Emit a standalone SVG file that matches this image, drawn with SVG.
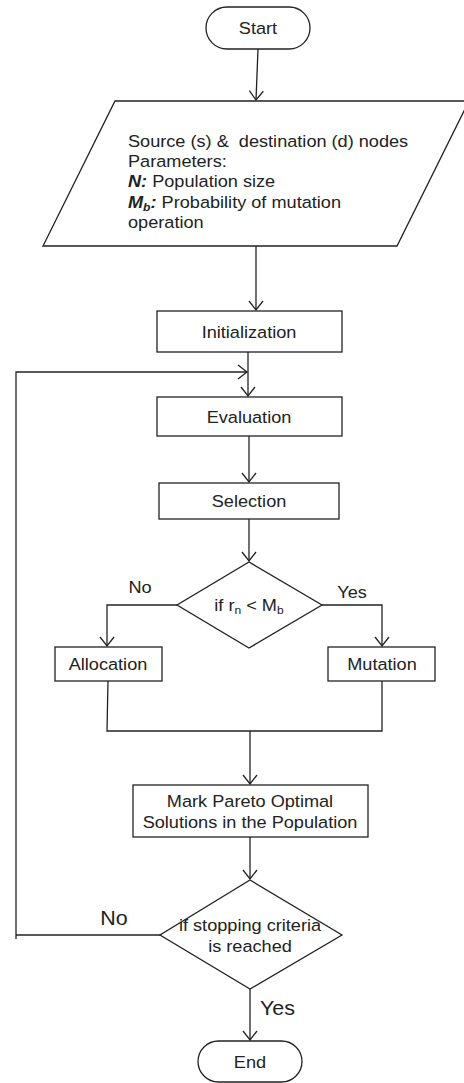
<svg xmlns="http://www.w3.org/2000/svg" width="464" height="1083" viewBox="0 0 464 1083">
<defs>
<style>
.s{fill:#fff;stroke:#222;stroke-width:1.3}
.c{fill:none;stroke:#222;stroke-width:1.3}
text{font-family:"Liberation Sans",Arial,Helvetica,sans-serif;font-size:16.5px;fill:#222}
.m{text-anchor:middle}
.big{font-size:19.5px}
.bi{font-weight:bold;font-style:italic}
</style>
<marker id="a" markerUnits="userSpaceOnUse" viewBox="-11 -9 13 18" refX="0" refY="0" markerWidth="13" markerHeight="18" orient="auto">
<path d="M-9,-7 L0,0 L-9,7" fill="none" stroke="#222" stroke-width="1.3"/>
</marker>
</defs>
<rect width="464" height="1083" fill="#fff"/>

<g id="connectors">
<path class="c" d="M258 49 L256 100" marker-end="url(#a)"/>
<path class="c" d="M256 246 V310" marker-end="url(#a)"/>
<path class="c" d="M248 352 V396" marker-end="url(#a)"/>
<path class="c" d="M160 935 H16 M16 939 V372 H247" marker-end="url(#a)"/>
<path class="c" d="M249 436 V482" marker-end="url(#a)"/>
<path class="c" d="M249 519 V561" marker-end="url(#a)"/>
<path class="c" d="M177 605 H107 V646" marker-end="url(#a)"/>
<path class="c" d="M322 605 H382 V646" marker-end="url(#a)"/>
<path class="c" d="M108 681 L107 731 H382 V681"/>
<path class="c" d="M250 731 V784" marker-end="url(#a)"/>
<path class="c" d="M250 837 V879" marker-end="url(#a)"/>
<path class="c" d="M250 989 V1040" marker-end="url(#a)"/>
</g>

<g id="start">
<rect class="s" x="206" y="7" width="104" height="42" rx="21"/>
<text class="m" transform="translate(258 34) scale(1.1 1)">Start</text>
</g>

<g id="input">
<polygon class="s" points="115,101 469,101 397,246 43,246"/>
<g transform="translate(128 0) scale(1.1 1)">
<text x="0" y="147">Source (s) &amp;&#160; destination (d) nodes</text>
<text x="0" y="167">Parameters:</text>
<text x="0" y="187.5"><tspan class="bi">N:</tspan> Population size</text>
<text x="0" y="208"><tspan class="bi">M</tspan><tspan class="bi" font-size="11" dy="3">b</tspan><tspan class="bi" dy="-3">:</tspan> Probability of mutation</text>
<text x="0" y="228">operation</text>
</g>
</g>

<g id="init">
<rect class="s" x="157" y="311" width="185" height="41"/>
<text class="m" transform="translate(249 338) scale(1.1 1)">Initialization</text>
</g>

<g id="eval">
<rect class="s" x="157" y="397" width="185" height="39"/>
<text class="m" transform="translate(249 423) scale(1.1 1)">Evaluation</text>
</g>

<g id="select">
<rect class="s" x="159" y="483" width="180" height="36"/>
<text class="m" transform="translate(249 507) scale(1.1 1)">Selection</text>
</g>

<g id="decision1">
<polygon class="s" points="249,562 322,605 249,648 177,605"/>
<text class="m" transform="translate(249 611) scale(1.1 1)">if r<tspan font-size="11" dy="3">n</tspan><tspan dy="-3"> &lt; M</tspan><tspan font-size="11" dy="3">b</tspan></text>
<text class="m" transform="translate(140 593) scale(1.1 1)">No</text>
<text class="m" transform="translate(352 598) scale(1.1 1)">Yes</text>
</g>

<g id="allocation">
<rect class="s" x="55" y="647" width="107" height="34"/>
<text class="m" transform="translate(108 670) scale(1.1 1)">Allocation</text>
</g>

<g id="mutation">
<rect class="s" x="328" y="647" width="107" height="34"/>
<text class="m" transform="translate(382 670) scale(1.1 1)">Mutation</text>
</g>

<g id="pareto">
<rect class="s" x="133" y="785" width="235" height="52"/>
<text class="m" transform="translate(250 806.5) scale(1.1 1)">Mark Pareto Optimal</text>
<text class="m" transform="translate(250 828) scale(1.1 1)">Solutions in the Population</text>
</g>

<g id="decision2">
<polygon class="s" points="250,880 342,935 250,989 160,935"/>
<text class="m" transform="translate(250 930.5) scale(1.1 1)">if stopping criteria</text>
<text class="m" transform="translate(250 951.5) scale(1.1 1)">is reached</text>
<text class="m big" transform="translate(114 925) scale(1.1 1)">No</text>
<text class="big" transform="translate(260 1015) scale(1.1 1)">Yes</text>
</g>

<g id="end">
<rect class="s" x="198" y="1041" width="104" height="41" rx="20.5"/>
<text class="m" transform="translate(250 1068) scale(1.1 1)">End</text>
</g>
</svg>
